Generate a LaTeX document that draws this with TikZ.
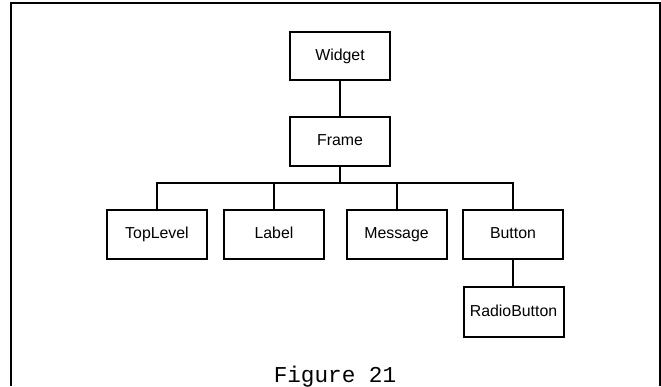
\documentclass[tikz,border=0pt]{standalone}
\usepackage{fontspec}
\setmainfont{Liberation Sans}
\newfontfamily\capfont{Liberation Mono}
\usepackage{tikz}

\begin{document}
\begin{tikzpicture}[x=0.75pt,y=0.75pt,yscale=-1,xscale=1,
  cls/.style={draw, line width=1.5, minimum width=75pt, minimum height=36.5pt, inner sep=0pt, text height=0.7em, text depth=0.04em, font=\fontsize{11.9}{14}\selectfont},
  link/.style={line width=1.5, line join=miter}]
\useasboundingbox (0,0) rectangle (661,386);

%Outer frame, open at the bottom
\coordinate (fl) at (11,386);
\coordinate (fr) at (659.5,386);
\draw [line width=1.5, line join=miter] (fl) |- (335,3) -| (fr) ;

% Class Nodes
\node [cls] (widget) at (340,56) {Widget};
\node [cls] (frame) at (340,141.5) {Frame};
\node [cls] (toplevel) at (157,234.5) {TopLevel};
\node [cls] (label) at (274,234.5) {Label};
\node [cls] (message) at (396.5,234.5) {Message};
\node [cls] (button) at (513,234.5) {Button};
\node [cls, minimum height=37.5pt] (radio) at (513.5,312) {RadioButton};

%Straight Lines
\coordinate (bus) at (340,183);
\draw [link] (widget) -- (frame) ;
\draw [link] (frame) -- (bus) ;
\draw [link] (toplevel.north) |- (bus) -| (button.north) ;
\draw [link] (bus -| label.north) -- (label.north) ;
\draw [link] (bus -| message.north) -- (message.north) ;
\draw [link] (button) -- (button |- radio.north) ;

% Text Node
\node [anchor=base, inner sep=0pt, font=\capfont\fontsize{17}{19}\selectfont] (caption) at (335,382) {Figure 21};
\end{tikzpicture}
\end{document}
